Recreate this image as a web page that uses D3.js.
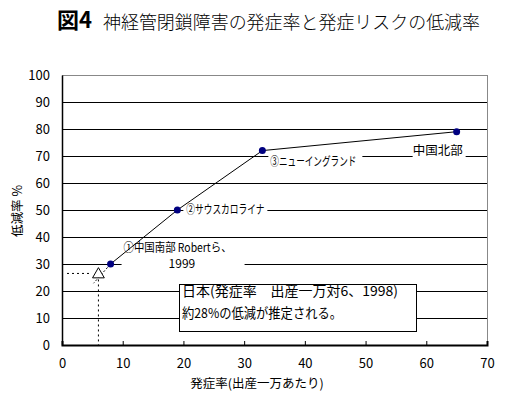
<!DOCTYPE html>
<html><head><meta charset="utf-8">
<script src="https://cdn.jsdelivr.net/npm/d3@7"></script>
<style>
body{margin:0;background:#fff;}
text{font-family:"Noto Sans CJK JP","Liberation Sans",sans-serif;}
</style></head><body>
<svg id="c" width="523" height="404"></svg>
<script>
const rates = [8, 19, 33, 65];
const reductions = [30, 50, 72, 79];
const pointLabels = ["①中国南部  Robertら、", "②サウスカロライナ", "③ニューイングランド", "中国北部"];
const japanRate = 6;
const japanReduction = 26.5;
const xTicks = [0, 10, 20, 30, 40, 50, 60, 70];
const yTicks = [0, 10, 20, 30, 40, 50, 60, 70, 80, 90, 100];
const titleMain = "神経管閉鎖障害の発症率と発症リスクの低減率";
const boxLines = ["日本(発症率　出産一万対6、1998)", "約28%の低減が推定される。"];

const svg = d3.select("#c");
const L = 62, R = 487, T = 75, B = 345;
const x = d3.scaleLinear().domain([0, 70]).range([L, R]);
const y = d3.scaleLinear().domain([0, 100]).range([B, T]);
const NUM = "Liberation Sans, Arial, sans-serif";

// title
svg.append("text").attr("x", 57).attr("y", 28).attr("font-size", 22).attr("font-weight", "bold").text("図4");
svg.append("text").attr("x", 103).attr("y", 29).attr("font-size", 18).attr("font-weight", 300)
  .attr("textLength", 377).attr("lengthAdjust", "spacingAndGlyphs").text(titleMain);

// gridlines
svg.append("g").selectAll("line").data(yTicks.filter(d => d > 0 && d < 100)).join("line")
  .attr("x1", L).attr("x2", R).attr("y1", d => y(d)).attr("y2", d => y(d))
  .attr("stroke", "#000").attr("stroke-width", 1).attr("shape-rendering", "crispEdges");
svg.append("line").attr("x1", L).attr("x2", R).attr("y1", y(100)).attr("y2", y(100)).attr("stroke", "#888").attr("shape-rendering", "crispEdges");
svg.append("line").attr("x1", R).attr("x2", R).attr("y1", y(100)).attr("y2", B).attr("stroke", "#888").attr("shape-rendering", "crispEdges");

// axes
const xAxis = d3.axisBottom(x).tickValues(xTicks).tickSize(-4).tickPadding(14).tickFormat(d3.format("d"));
const gx = svg.append("g").attr("transform", `translate(0,${B})`).call(xAxis);
gx.select(".domain").attr("stroke", "#000").attr("stroke-width", 2);
gx.selectAll(".tick line").attr("stroke", "#000");
gx.selectAll("text").attr("font-size", 13).attr("fill", "#000").attr("font-family", NUM);

const yAxis = d3.axisLeft(y).tickValues(yTicks).tickSize(0).tickPadding(12).tickFormat(d3.format("d"));
const gy = svg.append("g").attr("transform", `translate(${L},0)`).call(yAxis);
gy.select(".domain").attr("stroke", "#000").attr("stroke-width", 1.5);
gy.selectAll("text").attr("font-size", 13).attr("fill", "#000").attr("font-family", NUM);

// axis titles
svg.append("text").attr("transform", "translate(22,211) rotate(-90)").attr("text-anchor", "middle").attr("font-size", 12.5).text("低減率  %");
svg.append("text").attr("x", 257).attr("y", 388).attr("text-anchor", "middle").attr("font-size", 12.5).text("発症率(出産一万あたり)");

// japan dashed guides
svg.append("line").attr("x1", x(japanRate)).attr("x2", x(japanRate)).attr("y1", y(japanReduction) + 6).attr("y2", B)
  .attr("stroke", "#000").attr("stroke-dasharray", "2,3");
svg.append("line").attr("x1", L + 5).attr("x2", x(japanRate) - 8).attr("y1", y(japanReduction)).attr("y2", y(japanReduction))
  .attr("stroke", "#000").attr("stroke-dasharray", "2,3");
const slope = (reductions[1] - reductions[0]) / (rates[1] - rates[0]);
svg.append("line").attr("x1", x(rates[0] - 0.5)).attr("y1", y(reductions[0] - 0.5 * slope * 1.4))
  .attr("x2", x(rates[0] - 2.8)).attr("y2", y(reductions[0] - 2.8 * slope * 1.4))
  .attr("stroke", "#000").attr("stroke-dasharray", "2,2");

// triangle
svg.append("path").attr("d", d3.symbol(d3.symbolTriangle, 60)())
  .attr("transform", `translate(${x(japanRate)},${y(japanReduction) + 1})`)
  .attr("fill", "#fff").attr("stroke", "#000");

// white label backgrounds
svg.append("rect").attr("x", x(rates[0]) + 11).attr("y", y(reductions[0]) - 23).attr("width", 123).attr("height", 32).attr("fill", "#fff");
svg.append("rect").attr("x", x(rates[1]) + 6).attr("y", y(reductions[1]) - 8).attr("width", 84).attr("height", 16).attr("fill", "#fff");
svg.append("rect").attr("x", x(rates[2]) + 6).attr("y", y(reductions[2]) + 3).attr("width", 94).attr("height", 16).attr("fill", "#fff");
svg.append("rect").attr("x", x(rates[3]) - 44).attr("y", y(reductions[3]) + 11).attr("width", 53).attr("height", 16).attr("fill", "#fff");

// line + points
svg.append("path").datum(rates.map((r, i) => [r, reductions[i]]))
  .attr("d", d3.line().x(d => x(d[0])).y(d => y(d[1])))
  .attr("fill", "none").attr("stroke", "#000").attr("stroke-width", 1);
svg.append("g").selectAll("circle").data(rates).join("circle")
  .attr("cx", d => x(d)).attr("cy", (d, i) => y(reductions[i])).attr("r", 3.5).attr("fill", "#000080");

// point labels
svg.append("text").attr("x", x(rates[0]) + 13).attr("y", y(reductions[0]) - 12).attr("font-size", 12)
  .attr("textLength", 108).attr("lengthAdjust", "spacingAndGlyphs").text(pointLabels[0]);
svg.append("text").attr("x", x(rates[0]) + 58).attr("y", y(reductions[0]) + 4).attr("font-size", 12).attr("font-family", NUM).text("1999");
svg.append("text").attr("x", x(rates[1]) + 9).attr("y", y(reductions[1]) + 4).attr("font-size", 12)
  .attr("textLength", 78).attr("lengthAdjust", "spacingAndGlyphs").text(pointLabels[1]);
svg.append("text").attr("x", x(rates[2]) + 8).attr("y", y(reductions[2]) + 15).attr("font-size", 12)
  .attr("textLength", 86).attr("lengthAdjust", "spacingAndGlyphs").text(pointLabels[2]);
svg.append("text").attr("x", x(rates[3]) - 44).attr("y", y(reductions[3]) + 23).attr("font-size", 12.5).text(pointLabels[3]);

// annotation box
svg.append("rect").attr("x", 179.5).attr("y", 284.5).attr("width", 237).attr("height", 47).attr("fill", "#fff").attr("stroke", "#000");
svg.append("text").attr("x", 182).attr("y", 296).attr("font-size", 13.5)
  .attr("textLength", 216).attr("lengthAdjust", "spacingAndGlyphs").text(boxLines[0]);
svg.append("text").attr("x", 182).attr("y", 318).attr("font-size", 13.5)
  .attr("textLength", 160).attr("lengthAdjust", "spacingAndGlyphs").text(boxLines[1]);
</script></body></html>
